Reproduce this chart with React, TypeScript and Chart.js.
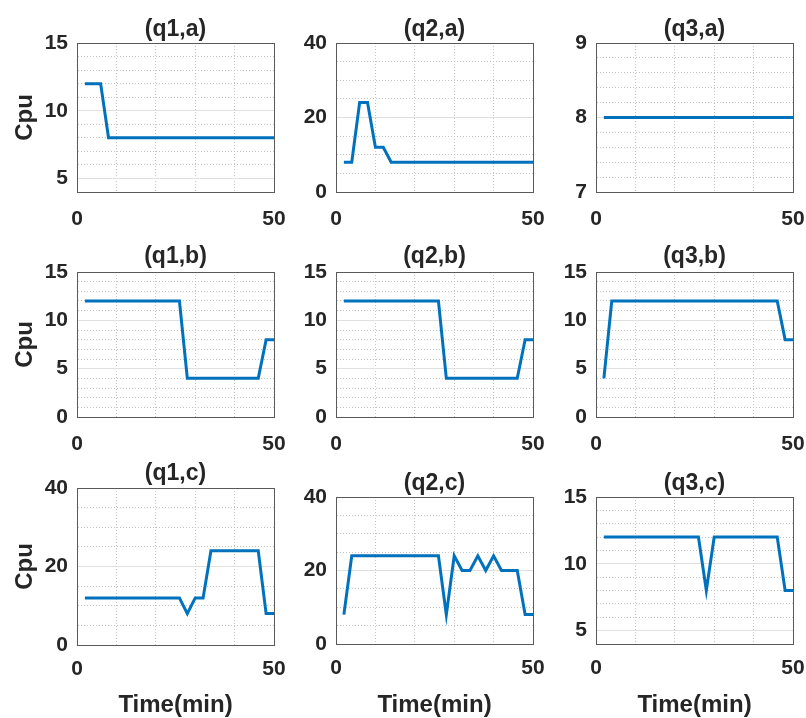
import { useEffect, useRef } from 'react';
import { Chart, registerables } from 'chart.js';

Chart.register(...registerables);

// ---------- data ----------
const TIME = [2, 4, 6, 8, 10, 12, 14, 16, 18, 20, 22, 24, 26, 28, 30, 32, 34, 36, 38, 40, 42, 44, 46, 48, 50];
const X_TICK_LABELS = [0, 50];

const CPU_Q1_A = [12, 12, 12, 8, 8, 8, 8, 8, 8, 8, 8, 8, 8, 8, 8, 8, 8, 8, 8, 8, 8, 8, 8, 8, 8];
const CPU_Q2_A = [8, 8, 24, 24, 12, 12, 8, 8, 8, 8, 8, 8, 8, 8, 8, 8, 8, 8, 8, 8, 8, 8, 8, 8, 8];
const CPU_Q3_A = [8, 8, 8, 8, 8, 8, 8, 8, 8, 8, 8, 8, 8, 8, 8, 8, 8, 8, 8, 8, 8, 8, 8, 8, 8];
const CPU_Q1_B = [12, 12, 12, 12, 12, 12, 12, 12, 12, 12, 12, 12, 12, 4, 4, 4, 4, 4, 4, 4, 4, 4, 4, 8, 8];
const CPU_Q2_B = [12, 12, 12, 12, 12, 12, 12, 12, 12, 12, 12, 12, 12, 4, 4, 4, 4, 4, 4, 4, 4, 4, 4, 8, 8];
const CPU_Q3_B = [4, 12, 12, 12, 12, 12, 12, 12, 12, 12, 12, 12, 12, 12, 12, 12, 12, 12, 12, 12, 12, 12, 12, 8, 8];
const CPU_Q1_C = [12, 12, 12, 12, 12, 12, 12, 12, 12, 12, 12, 12, 12, 8, 12, 12, 24, 24, 24, 24, 24, 24, 24, 8, 8];
const CPU_Q2_C = [8, 24, 24, 24, 24, 24, 24, 24, 24, 24, 24, 24, 24, 8, 24, 20, 20, 24, 20, 24, 20, 20, 20, 8, 8];
const CPU_Q3_C = [12, 12, 12, 12, 12, 12, 12, 12, 12, 12, 12, 12, 12, 8, 12, 12, 12, 12, 12, 12, 12, 12, 12, 8, 8];

const Y_TICKS_Q1_A = [5, 10, 15];
const Y_TICKS_Q2_A = [0, 20, 40];
const Y_TICKS_Q3_A = [7, 8, 9];
const Y_TICKS_B = [0, 5, 10, 15];
const Y_TICKS_Q1_C = [0, 20, 40];
const Y_TICKS_Q2_C = [0, 20, 40];
const Y_TICKS_Q3_C = [5, 10, 15];

// ---------- styling / layout ----------
const FONT = '"Liberation Sans", Arial, Helvetica, sans-serif';
const TEXT = '#262626';
const LINE = '#0072BD';
const BOX = '#5a5a5a';
const MAJOR_GRID = '#e0e0e0';
const MINOR_GRID = '#c4c4c4';

const COL_LEFT = [77, 336, 596];
const PLOT_W = 197;
const Y_AXIS_W = [77, 60, 60];
const RIGHT_PAD = 13;
const TITLE_BLOCK = 30;
const TITLE_SIZE = 23;
const TITLE_LH = 0.8;

type Panel = {
  title: string;
  values: number[];
  yMin: number;
  yMax: number;
  yMinor: number;
  yTicks: number[];
  row: number;
  col: number;
  plotTop: number;
  plotBottom: number;
  titleBelow: number;
};

const PANELS: Panel[] = [
  { title: '(q1,a)', values: CPU_Q1_A, yMin: 4, yMax: 15, yMinor: 1, yTicks: Y_TICKS_Q1_A, row: 0, col: 0, plotTop: 43, plotBottom: 192, titleBelow: 13.3 },
  { title: '(q2,a)', values: CPU_Q2_A, yMin: 0, yMax: 40, yMinor: 5, yTicks: Y_TICKS_Q2_A, row: 0, col: 1, plotTop: 43, plotBottom: 192, titleBelow: 13.3 },
  { title: '(q3,a)', values: CPU_Q3_A, yMin: 7, yMax: 9, yMinor: 0.2, yTicks: Y_TICKS_Q3_A, row: 0, col: 2, plotTop: 43, plotBottom: 192, titleBelow: 13.3 },
  { title: '(q1,b)', values: CPU_Q1_B, yMin: 0, yMax: 15, yMinor: 1, yTicks: Y_TICKS_B, row: 1, col: 0, plotTop: 272, plotBottom: 417, titleBelow: 15 },
  { title: '(q2,b)', values: CPU_Q2_B, yMin: 0, yMax: 15, yMinor: 1, yTicks: Y_TICKS_B, row: 1, col: 1, plotTop: 272, plotBottom: 417, titleBelow: 15 },
  { title: '(q3,b)', values: CPU_Q3_B, yMin: 0, yMax: 15, yMinor: 1, yTicks: Y_TICKS_B, row: 1, col: 2, plotTop: 272, plotBottom: 417, titleBelow: 15 },
  { title: '(q1,c)', values: CPU_Q1_C, yMin: 0, yMax: 40, yMinor: 5, yTicks: Y_TICKS_Q1_C, row: 2, col: 0, plotTop: 488, plotBottom: 645, titleBelow: 14.7 },
  { title: '(q2,c)', values: CPU_Q2_C, yMin: 0, yMax: 40, yMinor: 5, yTicks: Y_TICKS_Q2_C, row: 2, col: 1, plotTop: 497, plotBottom: 644, titleBelow: 13.3 },
  { title: '(q3,c)', values: CPU_Q3_C, yMin: 4, yMax: 15, yMinor: 1, yTicks: Y_TICKS_Q3_C, row: 2, col: 2, plotTop: 497, plotBottom: 644, titleBelow: 13.3 },
];

const X_GRID = [0, 10, 20, 30, 40, 50];

function range(min: number, max: number, step: number) {
  const out: number[] = [];
  const n = Math.round((max - min) / step);
  for (let i = 0; i <= n; i++) out.push(Math.round((min + i * step) * 1000) / 1000);
  return out;
}
const near = (a: number, b: number) => Math.abs(a - b) < 1e-6;

function PanelChart({ p }: { p: Panel }) {
  const ref = useRef<HTMLCanvasElement>(null);
  const yw = Y_AXIS_W[p.col];
  const plotH = p.plotBottom - p.plotTop;
  const lastRow = p.row === 2;
  const xh = lastRow ? 718 - p.plotBottom : 45;
  const left = COL_LEFT[p.col] - yw;
  const top = p.plotTop - TITLE_BLOCK;
  const width = yw + PLOT_W + RIGHT_PAD;
  const height = TITLE_BLOCK + plotH + xh;

  useEffect(() => {
    const canvas = ref.current!;
    const yGrid = range(p.yMin, p.yMax, p.yMinor);
    const isMajor = (v: number) => p.yTicks.some((t) => near(t, v));
    const lh = TITLE_SIZE * TITLE_LH;
    const titleBottom = p.titleBelow - lh / 2;
    const titleTop = TITLE_BLOCK - lh - titleBottom;

    const chart = new Chart(canvas, {
      type: 'line',
      data: {
        datasets: [
          {
            data: TIME.map((t, i) => ({ x: t, y: p.values[i] })),
            borderColor: LINE,
            borderWidth: 3,
            pointRadius: 0,
            fill: false,
            tension: 0,
          },
        ],
      },
      options: {
        animation: false,
        responsive: false,
        events: [],
        layout: { padding: { left: 0, right: RIGHT_PAD, top: 0, bottom: 0 } },
        plugins: {
          legend: { display: false },
          tooltip: { enabled: false },
          title: {
            display: true,
            text: p.title,
            fullSize: false,
            color: TEXT,
            font: { family: FONT, size: TITLE_SIZE, weight: 'bold', lineHeight: TITLE_LH },
            padding: { top: titleTop, bottom: titleBottom },
          },
        },
        scales: {
          x: {
            type: 'linear',
            min: 0,
            max: 50,
            afterBuildTicks: (s: any) => {
              s.ticks = X_GRID.map((v) => ({ value: v }));
            },
            afterFit: (s: any) => {
              s.height = xh;
            },
            ticks: {
              autoSkip: false,
              maxRotation: 0,
              padding: 0,
              color: TEXT,
              font: { family: FONT, size: 21, weight: 'bold' },
              callback: (v: any) => (X_TICK_LABELS.includes(Number(v)) ? String(v) : ''),
            },
            grid: {
              drawTicks: true,
              tickLength: lastRow ? 12 : 15,
              tickColor: 'rgba(0,0,0,0)',
              lineWidth: 1,
              color: (ctx: any) => {
                const v = ctx.tick?.value;
                if (v === undefined || v === 0) return 'rgba(0,0,0,0)';
                if (v === 50) return BOX;
                return MINOR_GRID;
              },
            },
            border: {
              display: true,
              color: BOX,
              width: 1,
              dash: (ctx: any) => {
                const v = ctx.tick?.value;
                return v !== undefined && v > 0 && v < 50 ? [1, 2] : [];
              },
            },
            title: {
              display: lastRow,
              text: 'Time(min)',
              color: TEXT,
              font: { family: FONT, size: 24, weight: 'bold', lineHeight: 1 },
              padding: { top: 0, bottom: 1 },
            },
          },
          y: {
            type: 'linear',
            min: p.yMin,
            max: p.yMax,
            afterBuildTicks: (s: any) => {
              s.ticks = yGrid.map((v) => ({ value: v }));
            },
            afterFit: (s: any) => {
              s.width = yw;
            },
            ticks: {
              autoSkip: false,
              padding: 9,
              color: TEXT,
              font: { family: FONT, size: 21, weight: 'bold' },
              callback: (v: any) => (isMajor(Number(v)) ? String(Math.round(Number(v))) : ''),
            },
            grid: {
              drawTicks: false,
              lineWidth: 1,
              color: (ctx: any) => {
                const v = ctx.tick?.value;
                if (v === undefined || near(v, p.yMin)) return 'rgba(0,0,0,0)';
                if (near(v, p.yMax)) return BOX;
                return isMajor(v) ? MAJOR_GRID : MINOR_GRID;
              },
            },
            border: {
              display: true,
              color: BOX,
              width: 1,
              dash: (ctx: any) => {
                const v = ctx.tick?.value;
                if (v === undefined) return [];
                if (near(v, p.yMin) || near(v, p.yMax) || isMajor(v)) return [];
                return [1, 2];
              },
            },
            title: {
              display: p.col === 0,
              text: 'Cpu',
              color: TEXT,
              font: { family: FONT, size: 24, weight: 'bold', lineHeight: 1.2 },
              padding: { top: 10.6, bottom: 0 },
            },
          },
        },
      } as any,
    });
    return () => chart.destroy();
  }, [p]);

  return (
    <canvas
      ref={ref}
      width={width}
      height={height}
      style={{ position: 'absolute', left, top, width, height }}
    />
  );
}

export default function App() {
  return (
    <div style={{ position: 'absolute', left: 0, top: 0, width: 806, height: 718, background: '#ffffff', overflow: 'hidden' }}>
      {PANELS.map((p) => (
        <PanelChart key={p.title} p={p} />
      ))}
    </div>
  );
}
